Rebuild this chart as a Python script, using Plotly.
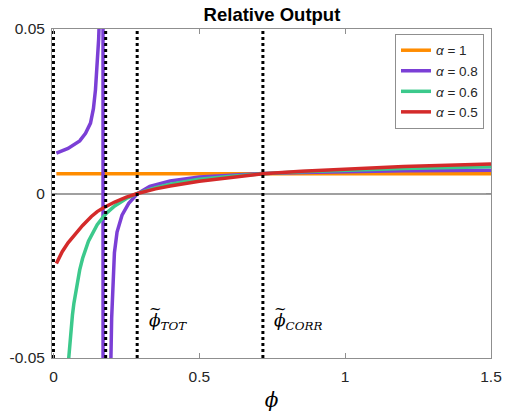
import plotly.graph_objects as go

# ---- data ----
phi_a1 = [0.01, 0.5, 1.0, 1.5]
out_a1 = [0.0060, 0.0060, 0.0060, 0.0060]

phi_a08 = [0.01, 0.05, 0.09, 0.11, 0.127, 0.137, 0.144, 0.150, 0.155, 0.160, 0.166, 0.1695,
           0.1705, 0.180, 0.190, 0.197, 0.1995, 0.203, 0.209, 0.218, 0.235, 0.258, 0.275, 0.288,
           0.33, 0.40, 0.50, 0.60, 0.718, 0.85, 1.0, 1.2, 1.5]
out_a08 = [0.0123, 0.0137, 0.0160, 0.0183, 0.0214, 0.0258, 0.0315, 0.0390, 0.0470, 0.0600, 0.1200, 0.5000,
           -0.5000, -0.1500, -0.0800, -0.0500, -0.0380, -0.0280, -0.0180, -0.0117, -0.0066, -0.0030, -0.0012, 0.0,
           0.0022, 0.0038, 0.0050, 0.0056, 0.0061, 0.0064, 0.0067, 0.0069, 0.0071]

phi_a06 = [0.050, 0.056, 0.06, 0.065, 0.07, 0.08, 0.09, 0.10, 0.12, 0.15, 0.18, 0.21, 0.25, 0.288,
           0.35, 0.40, 0.50, 0.60, 0.718, 0.85, 1.0, 1.2, 1.5]
out_a06 = [-0.0525, -0.0452, -0.0412, -0.0370, -0.0334, -0.0276, -0.0232, -0.0197, -0.0145, -0.0095,
           -0.0061, -0.0038, -0.0015, 0.0, 0.0018, 0.0028, 0.0043, 0.0052, 0.0060, 0.0066, 0.0071, 0.0076, 0.0081]

phi_a05 = [0.01, 0.02, 0.03, 0.05, 0.07, 0.10, 0.13, 0.15, 0.17, 0.21, 0.25, 0.288, 0.35, 0.40, 0.50,
           0.60, 0.718, 0.85, 1.0, 1.2, 1.5]
out_a05 = [-0.0213, -0.0194, -0.0177, -0.0150, -0.0128, -0.0097, -0.0070, -0.0055, -0.0044, -0.0026, -0.0011, 0.0,
           0.0014, 0.0023, 0.0037, 0.0048, 0.0060, 0.0068, 0.0075, 0.0082, 0.0090]

series_names = ["1", "0.8", "0.6", "0.5"]
vline_x = [0.0, 0.179, 0.287, 0.718]
y_limits = [-0.05, 0.05]
x_ticks = [0, 0.5, 1, 1.5]
x_ticklabels = ["0", "0.5", "1", "1.5"]
y_ticks = [-0.05, 0, 0.05]
y_ticklabels = ["-0.05", "0", "0.05"]
annot_labels = [("TOT", 0.320), ("CORR", 0.750)]
annot_y = -0.0390

colors = ["#FF8C00", "#7B3FD6", "#3CC98C", "#D42A2A"]
xs = [phi_a1, phi_a08, phi_a06, phi_a05]
ys = [out_a1, out_a08, out_a06, out_a05]

fig = go.Figure()
for x, y, name, c in zip(xs, ys, series_names, colors):
    fig.add_trace(go.Scatter(
        x=x, y=y, mode="lines",
        line=dict(color=c, width=3.5),
        name="<i>α</i> = " + name,
    ))

for vx in vline_x:
    fig.add_trace(go.Scatter(
        x=[vx, vx], y=y_limits, mode="lines",
        line=dict(color="black", width=3, dash="dot"),
        showlegend=False, hoverinfo="skip",
    ))

serif = "DejaVu Serif, Liberation Serif, serif"
for sub, ax in annot_labels:
    fig.add_annotation(
        x=ax, y=annot_y, xref="x", yref="y",
        text="<i>ϕ</i><sub><i>" + sub + "</i></sub>",
        showarrow=False, xanchor="left", yanchor="middle",
        font=dict(family=serif, size=17, color="black"),
    )
    fig.add_annotation(
        x=ax, y=annot_y, xref="x", yref="y",
        text="~",
        showarrow=False, xanchor="left", yanchor="middle",
        xshift=0, yshift=13,
        font=dict(family=serif, size=15, color="black"),
    )

axis_grey = "#8f8f8f"
tick_font = dict(family="Liberation Sans, Arial, sans-serif", size=15.5, color="#262626")

fig.update_layout(
    width=506, height=414,
    margin=dict(l=52, r=15, t=29, b=56, autoexpand=False),
    paper_bgcolor="white", plot_bgcolor="white",
    title=dict(
        text="<b>Relative Output</b>",
        x=0.5375, xanchor="center", xref="container",
        y=1 - 15 / 414, yanchor="middle", yref="container",
        font=dict(family="Liberation Sans, Arial, sans-serif", size=18.5, color="black"),
        automargin=False,
    ),
    xaxis=dict(
        range=[-0.005, 1.5], automargin=False,
        tickmode="array", tickvals=x_ticks, ticktext=x_ticklabels,
        ticks="inside", ticklen=5, tickcolor=axis_grey, tickwidth=1,
        showline=True, linecolor=axis_grey, linewidth=1, mirror="ticks",
        showgrid=False, zeroline=False,
        tickfont=tick_font, ticklabelstandoff=4,
        title=dict(text="<i>ϕ</i>", standoff=9,
                   font=dict(family=serif, size=20, color="black")),
    ),
    yaxis=dict(
        range=y_limits, automargin=False,
        tickmode="array", tickvals=y_ticks, ticktext=y_ticklabels,
        ticks="inside", ticklen=5, tickcolor=axis_grey, tickwidth=1,
        showline=True, linecolor=axis_grey, linewidth=1, mirror="ticks",
        showgrid=False,
        zeroline=True, zerolinecolor="#a0a0a0", zerolinewidth=1.5,
        tickfont=tick_font, ticklabelstandoff=3,
    ),
    legend=dict(
        x=0.984, y=0.985, xanchor="right", yanchor="top",
        bgcolor="white", bordercolor=axis_grey, borderwidth=1,
        font=dict(family="Liberation Sans, Arial, sans-serif", size=13.5, color="#262626"),
        tracegroupgap=0, itemwidth=30,
    ),
    showlegend=True,
)

fig.write_html("out.html", config={"displayModeBar": False})

# remove the default page margin so the figure sits at the window's corner
with open("out.html", "r", encoding="utf-8") as f:
    html = f.read()
html = html.replace("<body>", '<body style="margin:0;padding:0;">', 1)
with open("out.html", "w", encoding="utf-8") as f:
    f.write(html)
